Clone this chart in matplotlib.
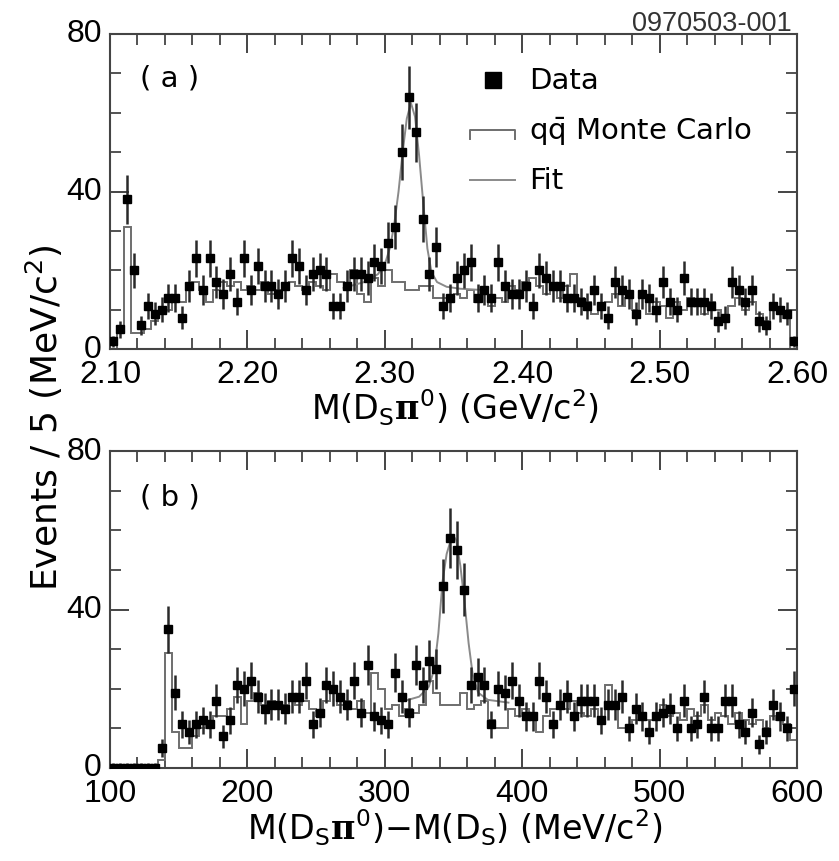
import numpy as np
import matplotlib
matplotlib.use('Agg')
import matplotlib.pyplot as plt
from matplotlib.ticker import MultipleLocator, FixedLocator, FormatStrFormatter
from matplotlib.transforms import ScaledTranslation

plt.rcParams['font.family'] = ['DejaVu Sans']
plt.rcParams['mathtext.fontset'] = 'custom'
plt.rcParams['mathtext.rm'] = 'DejaVu Sans'
plt.rcParams['mathtext.it'] = 'DejaVu Sans:italic'
plt.rcParams['mathtext.bf'] = 'DejaVu Serif:bold'

# ---------------- data ----------------
# (a) M(Ds pi0), 5 MeV bins from 2.10 to 2.60 GeV
bins_a_lo, bins_a_hi, nbins = 2.10, 2.60, 100
data_a = [2, 5, 38, 20, 6, 11, 9, 10, 13, 13,
          8, 16, 23, 15, 23, 17, 14, 19, 12, 23,
          15, 21, 16, 16, 14, 16, 23, 21, 15, 19,
          20, 19, 11, 11, 16, 19, 19, 18, 22, 21,
          27, 31, 50, 64, 55, 33, 19, 26, 11, 13,
          18, 20, 22, 13, 15, 13, 22, 16, 14, 14,
          16, 11, 20, 18, 16, 16, 13, 13, 12, 11,
          15, 11, 8, 17, 15, 14, 9, 14, 13, 10,
          17, 12, 10, 18, 12, 12, 12, 11, 7, 8,
          17, 15, 12, 15, 7, 6, 11, 10, 9, 2]
mc_a = [0, 4, 31, 4, 4, 5, 7, 9, 10, 12,
        12, 15, 17, 15, 12, 15, 17, 16, 17, 15,
        16, 15, 17, 14, 15, 16, 17, 16, 15, 17,
        16, 15, 19, 17, 16, 20, 14, 12, 18, 16,
        20, 17, 17, 15, 15, 16, 16, 13, 13, 12,
        14, 13, 15, 12, 14, 11, 13, 12, 16, 15,
        17, 18, 16, 14, 15, 13, 16, 19, 13, 12,
        9, 10, 12, 14, 11, 13, 10, 14, 9, 12,
        11, 8, 12, 10, 13, 11, 9, 12, 10, 8,
        11, 13, 10, 12, 9, 7, 11, 10, 8, 0]
fit_a_x = [2.270, 2.285, 2.295, 2.300, 2.304, 2.307, 2.310, 2.313, 2.316, 2.319,
           2.322, 2.325, 2.328, 2.331, 2.334, 2.338, 2.345, 2.355, 2.370]
fit_a_y = [15.5, 17.0, 19.0, 21.5, 26.0, 32.0, 40.0, 50.0, 58.5, 62.5,
           59.0, 49.0, 37.0, 25.5, 19.5, 17.0, 15.8, 15.3, 15.0]

# (b) M(Ds pi0) - M(Ds), 5 MeV bins from 100 to 600 MeV
bins_b_lo, bins_b_hi = 100, 600
data_b = [0, 0, 0, 0, 0, 0, 0, 5, 35, 19,
          11, 9, 11, 12, 11, 17, 8, 12, 21, 20,
          22, 18, 15, 16, 16, 15, 18, 18, 22, 11,
          14, 21, 20, 18, 16, 22, 14, 26, 13, 12,
          11, 24, 18, 14, 26, 21, 27, 25, 46, 58,
          55, 45, 21, 23, 21, 11, 20, 19, 22, 17,
          13, 13, 22, 18, 11, 16, 18, 13, 17, 17,
          17, 12, 16, 16, 18, 10, 15, 13, 9, 13,
          14, 15, 10, 17, 10, 11, 18, 10, 10, 17,
          17, 11, 9, 14, 6, 9, 16, 13, 10, 20]
mc_b = [0, 0, 0, 0, 0, 0, 0, 2, 29, 9,
        5, 5, 8, 10, 11, 13, 13, 15, 18, 11,
        17, 19, 16, 17, 15, 16, 18, 16, 17, 15,
        13, 17, 19, 16, 17, 15, 17, 14, 24, 20,
        15, 16, 13, 15, 14, 16, 22, 19, 16, 16,
        16, 19, 15, 16, 17, 12, 10, 10, 15, 13,
        15, 13, 9, 13, 15, 16, 15, 17, 14, 13,
        15, 12, 21, 15, 10, 10, 12, 13, 12, 14,
        16, 13, 14, 12, 15, 13, 16, 12, 14, 13,
        11, 14, 12, 11, 12, 10, 13, 12, 11, 7]
fit_b_x = [315, 325, 332, 336, 339, 342, 345, 348, 350, 352,
           355, 358, 361, 364, 368, 375, 390]
fit_b_y = [17.0, 18.0, 20.5, 25.0, 34.0, 47.0, 54.0, 57.5, 58.5, 57.5,
           51.0, 42.0, 31.5, 23.5, 19.0, 17.2, 16.5]

legend_labels = ['Data', r'$\mathrm{q\bar{q}}$ Monte Carlo', 'Fit']

# ---------------- figure ----------------
W, H = 839, 862
fig = plt.figure(figsize=(W / 100, H / 100), dpi=100)

def px_axes(l, t, r, b):
    return fig.add_axes([l / W, 1 - b / H, (r - l) / W, (b - t) / H])

axA = px_axes(110, 35, 797, 350)
axB = px_axes(110, 452, 797, 769)

SPINE = '#444444'
MCCOL = '#6e6e6e'
FITCOL = '#8a8a8a'
TICKFAM, TICKSIZE = 'Liberation Sans', 23
FS_LEG = 21
FS_XLAB = 24
FS_YLAB = 26

def draw(ax, lo, hi, data, mc, fx, fy):
    data = np.asarray(data, float)
    edges = np.linspace(lo, hi, nbins + 1)
    centers = 0.5 * (edges[1:] + edges[:-1])
    ax.stairs(mc, edges, color=MCCOL, lw=1.4, zorder=2)
    ax.plot(fx, fy, color=FITCOL, lw=1.4, zorder=3)
    err = np.sqrt(data)
    hi_err = np.where(data > 0, err, 1.15)
    ax.errorbar(centers, data, yerr=[err, hi_err], fmt='s', ms=5.8,
                mfc='black', mec='black', ecolor='#2a2a2a', elinewidth=1.8,
                capsize=0, zorder=4)
    ax.set_xlim(lo, hi)
    ax.set_ylim(0, 80)
    ax.yaxis.set_major_locator(FixedLocator([0, 40, 80]))
    ax.yaxis.set_minor_locator(MultipleLocator(10))
    for s in ax.spines.values():
        s.set_color(SPINE)
        s.set_linewidth(1.5)
    ax.tick_params(which='both', direction='in', top=True, right=True,
                   color=SPINE)
    ax.tick_params(which='major', length=14, width=1.4)
    ax.tick_params(which='minor', length=8, width=1.3)
    ax.tick_params(axis='y', which='major', pad=6)
    ax.tick_params(axis='x', which='major', pad=7)

draw(axA, bins_a_lo, bins_a_hi, data_a, mc_a, fit_a_x, fit_a_y)
axA.xaxis.set_major_locator(MultipleLocator(0.1))
axA.xaxis.set_minor_locator(MultipleLocator(0.02))
axA.xaxis.set_major_formatter(FormatStrFormatter('%.2f'))

draw(axB, bins_b_lo, bins_b_hi, data_b, mc_b, fit_b_x, fit_b_y)
axB.xaxis.set_major_locator(MultipleLocator(100))
axB.xaxis.set_minor_locator(MultipleLocator(20))

lift = ScaledTranslation(0, 4 / 100, fig.dpi_scale_trans)
for ax in (axA, axB):
    for lab in ax.get_xticklabels():
        lab.set_fontfamily(TICKFAM)
        lab.set_fontsize(TICKSIZE)
    for lab in ax.get_yticklabels():
        lab.set_fontfamily(TICKFAM)
        lab.set_fontsize(TICKSIZE)
        lab.set_verticalalignment('center_baseline')
        lab.set_transform(lab.get_transform() + lift)

# panel labels
axA.text(0.044, 0.863, '( a )', transform=axA.transAxes, fontsize=FS_LEG,
         ha='left', va='center')
axB.text(0.044, 0.857, '( b )', transform=axB.transAxes, fontsize=FS_LEG,
         ha='left', va='center')

# legend (manual)
rows_y = [0.853, 0.694, 0.535]
axA.plot([0.557], [rows_y[0]], marker='s', ms=11, color='black',
         transform=axA.transAxes, clip_on=False)
axA.plot([0.524, 0.524, 0.590, 0.590], [rows_y[1] - 0.027, rows_y[1], rows_y[1], rows_y[1] - 0.027],
         color=MCCOL, lw=1.4, transform=axA.transAxes)
axA.plot([0.524, 0.590], [rows_y[2], rows_y[2]], color=FITCOL, lw=1.4,
         transform=axA.transAxes)
for yv, lab in zip(rows_y, legend_labels):
    axA.text(0.610, yv, lab, transform=axA.transAxes, fontsize=FS_LEG,
             ha='left', va='center')

# axis titles
fig.text(455 / W, 1 - 420 / H, r'M(D$_\mathrm{S}$$\mathbf{\pi}^\mathrm{0}$) (GeV/c$^\mathrm{2}$)',
         fontsize=FS_XLAB, ha='center', va='baseline')
fig.text(455 / W, 1 - 840 / H,
         r'M(D$_\mathrm{S}$$\mathbf{\pi}^\mathrm{0}$)$-$M(D$_\mathrm{S}$) (MeV/c$^\mathrm{2}$)',
         fontsize=FS_XLAB, ha='center', va='baseline')
fig.text(44 / W, 1 - 418 / H, r'Events / 5 (MeV/c$^\mathrm{2}$)', fontsize=FS_YLAB,
         rotation=90, ha='center', va='center')
fig.text(792 / W, 1 - 31 / H, '0970503-001', fontsize=19.5, ha='right',
         va='baseline', color='#333333', family='Liberation Sans')

fig.savefig('out.png', dpi=100)
